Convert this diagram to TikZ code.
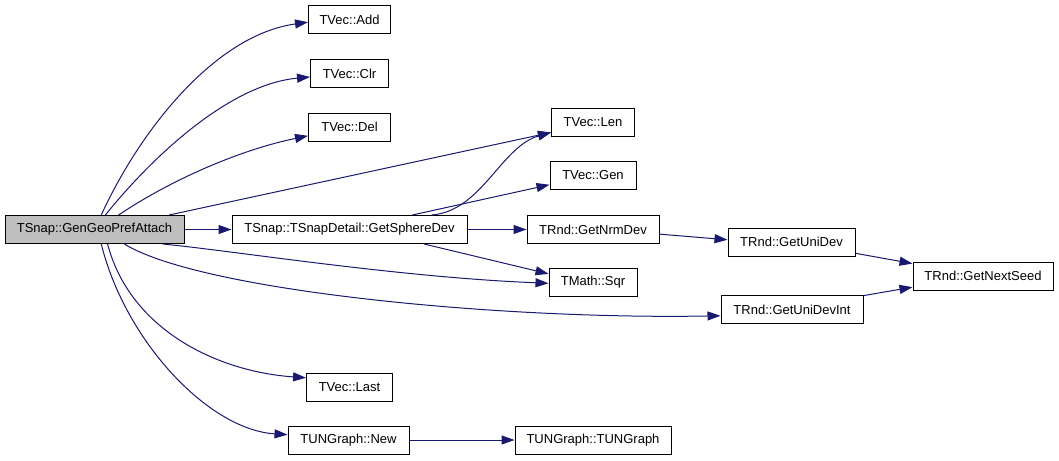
\documentclass[tikz,border=0pt]{standalone}
\usepackage{fontspec}
\setmainfont{Liberation Sans}
\usepackage{xcolor}
\usepackage{tikz}
\usetikzlibrary{arrows.meta}
\usetikzlibrary{calc}
\definecolor{edgeblue}{HTML}{191970}
\tikzstyle{fn} = [rectangle, draw=black, line width=1pt, minimum height=28pt, inner sep=0pt, font=\fontsize{13}{15}\selectfont]
\tikzstyle{e} = [draw=edgeblue, line width=1pt, -{Triangle[length=13pt,width=9pt]}]

\begin{document}
\begin{tikzpicture}[x=1pt,y=-1pt]
		\useasboundingbox (0,0) rectangle (1059,460);
		% callers column
		\node[fn, fill=gray!50, minimum width=179pt] (root) at (94.5,229.5) {TSnap::GenGeoPrefAttach};
		\node[fn, minimum width=82pt] (add) at (349.5,20) {TVec::Add};
		\node[fn, minimum width=78pt] (clr) at (349.5,73.5) {TVec::Clr};
		\node[fn, minimum width=82pt] (del) at (349.5,127) {TVec::Del};
		\node[fn, minimum width=235pt] (sphere) at (349.5,229.5) {TSnap::TSnapDetail::GetSphereDev};
		\node[fn, minimum width=86pt] (last) at (349.5,387) {TVec::Last};
		\node[fn, minimum width=121pt] (new) at (348.5,440) {TUNGraph::New};
		\node[fn, minimum width=83pt] (len) at (593,122) {TVec::Len};
		\node[fn, minimum width=86pt] (gen) at (593,175.5) {TVec::Gen};
		\node[fn, minimum width=132pt] (nrm) at (593,229.5) {TRnd::GetNrmDev};
		\node[fn, minimum width=88pt] (sqr) at (593,282.5) {TMath::Sqr};
		\node[fn, minimum width=156pt] (tung) at (593,440) {TUNGraph::TUNGraph};
		\node[fn, minimum width=127pt] (unidev) at (791.5,242) {TRnd::GetUniDev};
		\node[fn, minimum width=142pt] (unidevint) at (792,309.5) {TRnd::GetUniDevInt};
		\node[fn, minimum width=140pt] (seed) at (983,276) {TRnd::GetNextSeed};
		% straight calls
		\foreach \from/\to in {root/sphere,sphere/nrm,new/tung,root.11/len.194,sphere.13/gen.192,sphere.-11/sqr.169,nrm.-4/unidev.178,unidev.-10/seed.170,unidevint.11/seed.189}
		\draw[e] (\from) -- (\to);
		% curved calls
		\draw[e] (root.65) .. controls +(39,-85) and +(-93,13) .. (add.183);
		\draw[e] (root.53) .. controls +(40,-50) and +(-85,8) .. (clr.185);
		\draw[e] (root.31) .. controls +(52,-35) and +(-68,14) .. (del.192);
		\draw[e] (root.-12) .. controls +(72,7) and +(-150,-6) .. (sqr.181);
		\draw[e] (root.-26) .. controls +(77,47) and +(-221,4) .. (unidevint.185);
		\draw[e] (root.-48) .. controls +(23,87) and +(-87,-6) .. (last.168);
		\draw[e] (root.-65) .. controls +(24,97) and +(-79,-5) .. (new.175);
		\draw[e] (sphere.10) .. controls +(50,-4) and +(-50,14) .. (len.194);
	\end{tikzpicture}
\end{document}
